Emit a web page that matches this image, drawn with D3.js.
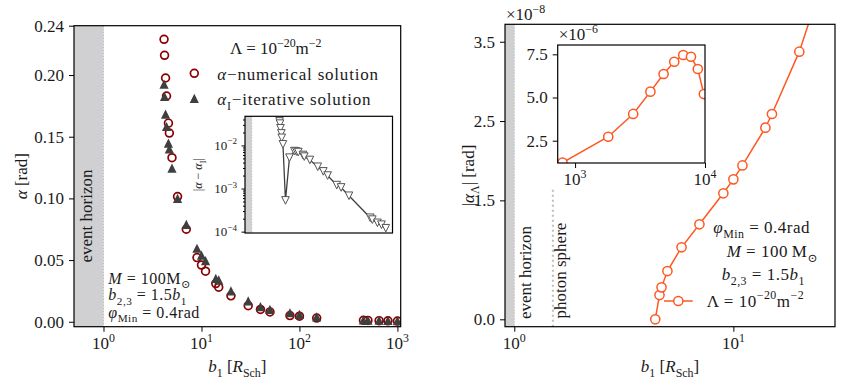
<!DOCTYPE html>
<html>
<head>
<meta charset="utf-8">
<script src="https://cdn.jsdelivr.net/npm/d3@7"></script>
<style>
  body { margin: 0; background: #fff; }
  svg { display: block; }
  text { font-family: "Liberation Serif", "DejaVu Serif", serif; fill: #1a1a1a; }
</style>
</head>
<body>
<svg id="chart" width="845" height="387"></svg>
<script>
// ---- data ----
// left panel: deflection angle vs impact parameter b1 (R_Sch)
var bNum = [4.15, 4.2, 4.3, 4.4, 4.6, 4.7, 5.0, 5.7, 7, 9, 10, 11, 14, 15, 20, 30, 40, 50, 80, 100, 150, 450, 500, 650, 800, 1000];
var alphaNum = [0.229, 0.216, 0.1976, 0.183, 0.161, 0.153, 0.133, 0.1015, 0.075, 0.052, 0.046, 0.041, 0.031, 0.028, 0.021, 0.013, 0.010, 0.008, 0.005, 0.0045, 0.003, 0.0012, 0.0011, 0.0009, 0.0008, 0.0006];
var alphaIter = [0.1927, 0.1826, 0.1683, 0.1583, 0.1448, 0.1402, 0.1245, 0.100, 0.079, 0.0596, 0.054, 0.0495, 0.0352, 0.034, 0.025, 0.017, 0.0122, 0.010, 0.0073, 0.006, 0.004, 0.0015, 0.0014, 0.0013, 0.0011, 0.001];
// inset: |alpha - alpha_I|
var diffAbs = [0.043, 0.036, 0.032, 0.025, 0.019, 0.015, 0.0106, 0.00053, 0.0052, 0.0074, 0.0072, 0.0070, 0.006, 0.0055, 0.0046, 0.0032, 0.0025, 0.002, 0.0012, 0.00106, 0.00068, 0.00021, 0.00019, 0.00016, 0.000145, 0.00012];

// right panel: |alpha_Lambda| in units of 1e-8 rad
var bLam = [4.4, 4.6, 4.7, 5.0, 5.8, 7, 9, 10, 11, 14, 15, 20, 30];
var alphaLam = [0.0, 0.306, 0.403, 0.609, 0.908, 1.198, 1.589, 1.765, 1.94, 2.416, 2.589, 3.375, 4.85];
// right inset: units of 1e-6 rad
var bLamInset = [800, 1800, 2800, 3800, 4800, 5800, 6800, 7800, 8800, 9800];
var alphaLamInset = [1.23, 2.73, 4.05, 5.34, 6.36, 7.07, 7.46, 7.36, 6.65, 5.2];

// tick values
var yTicksL = [0, 0.05, 0.10, 0.15, 0.20, 0.24];
var xTicksL = [1, 10, 100, 1000];
var yTicksLI = [1e-4, 1e-3, 1e-2];
var yTicksR = [0.0, 1.5, 2.5, 3.5];
var xTicksR = [1, 10];
var yTicksRI = [2.5, 5.0, 7.5];
var xTicksRI = [1000, 10000];

// ---- layout ----
var L  = {x0: 74,    x1: 400.7, y0: 25.7, y1: 326.7};
var LI = {x0: 245,   x1: 392.5, y0: 116.3, y1: 233};
var R  = {x0: 505,   x1: 835,   y0: 24.3, y1: 326.7};
var RI = {x0: 557.7, x1: 705,   y0: 45,   y1: 163};

var RED = "#8b0000", DARK = "#3f3f3f", ORANGE = "#ff5722", BAND = "#d0d0d2", DOT = "#bdbdbd";
var FS = 17;

var svg = d3.select("#chart");
var defs = svg.append("defs");
function clip(id, b) {
  defs.append("clipPath").attr("id", id).append("rect")
    .attr("x", b.x0).attr("y", b.y0).attr("width", b.x1 - b.x0).attr("height", b.y1 - b.y0);
}
clip("cL", L); clip("cLI", LI); clip("cR", R); clip("cRI", RI);

// text with sub/superscripts, parts = [{t, i, sub, sup}]
function rich(sel, parts, size) {
  var off = 0;
  parts.forEach(function(p) {
    var shift = p.sub ? size * 0.3 : (p.sup ? -size * 0.42 : 0);
    var ts = sel.append("tspan").text(p.t);
    if (shift - off !== 0) ts.attr("dy", shift - off);
    off = shift;
    if (p.sub || p.sup) ts.attr("font-size", size * 0.7);
    if (p.i) ts.attr("font-style", "italic");
  });
  return sel;
}
function label(x, y, parts, size, anchor, rot) {
  var t = svg.append("text").attr("font-size", size).attr("text-anchor", anchor || "start");
  if (rot) t.attr("transform", "translate(" + x + "," + y + ") rotate(" + rot + ")");
  else t.attr("x", x).attr("y", y);
  return rich(t, parts, size);
}
function pow10(v) {
  var e = Math.round(Math.log10(v));
  return [{t: "10"}, {t: (e < 0 ? "\u2212" + (-e) : "" + e), sup: 1}];
}
function triUp(s) { return "M0," + (-s) + "L" + (-s) + "," + s + "L" + s + "," + s + "Z"; }
function triDown(s) { return "M0," + s + "L" + (-s) + "," + (-s) + "L" + s + "," + (-s) + "Z"; }

function styleAxis(g) {
  g.select(".domain").remove();
  g.selectAll(".tick line").attr("stroke", "#000").attr("stroke-width", 1);
  g.attr("font-size", FS);
}
function frame(b) {
  svg.append("rect").attr("x", b.x0).attr("y", b.y0).attr("width", b.x1 - b.x0).attr("height", b.y1 - b.y0)
    .attr("fill", "none").attr("stroke", "#000").attr("stroke-width", 1.2);
}
function band(b, xs, lo, hi) {
  svg.append("rect").attr("x", b.x0).attr("y", b.y0).attr("width", xs(hi) - b.x0).attr("height", b.y1 - b.y0)
    .attr("fill", BAND);
  svg.append("line").attr("x1", xs(hi)).attr("x2", xs(hi)).attr("y1", b.y0).attr("y2", b.y1)
    .attr("stroke", DOT).attr("stroke-width", 1).attr("stroke-dasharray", "1.5,1.5");
}

// ================= LEFT PANEL =================
var xL = d3.scaleLog().domain([0.5, 1080]).range([L.x0, L.x1]);
var yL = d3.scaleLinear().domain([-0.004, 0.24]).range([L.y1, L.y0]);

band(L, xL, 0.5, 1);

var gL = svg.append("g").attr("clip-path", "url(#cL)");
gL.selectAll("circle.num").data(bNum).enter().append("circle")
  .attr("cx", function(d) { return xL(d); })
  .attr("cy", function(d, i) { return yL(alphaNum[i]); })
  .attr("r", 3.9).attr("fill", "none").attr("stroke", RED).attr("stroke-width", 1.7);
gL.selectAll("path.iter").data(bNum).enter().append("path")
  .attr("transform", function(d, i) { return "translate(" + xL(d) + "," + yL(alphaIter[i]) + ")"; })
  .attr("d", triUp(4.6)).attr("fill", DARK);

var axYL = svg.append("g").attr("transform", "translate(" + L.x0 + ",0)")
  .call(d3.axisLeft(yL).tickValues(yTicksL).tickSize(5).tickPadding(5).tickFormat(d3.format(".2f")));
styleAxis(axYL);
var axXL = svg.append("g").attr("transform", "translate(0," + L.y1 + ")")
  .call(d3.axisBottom(xL).tickValues(xTicksL).tickSize(5).tickFormat(""));
styleAxis(axXL);
xTicksL.forEach(function(v) { label(xL(v), L.y1 + 22, pow10(v), FS, "middle"); });

label(91.5, 262.5, [{t: "event horizon"}], FS, "start", -90);
label(230, 54, [{t: "\u039B = 10"}, {t: "\u221220", sup: 1}, {t: "m"}, {t: "\u22122", sup: 1}], FS);
svg.append("circle").attr("cx", 194.3).attr("cy", 73.3).attr("r", 3.9)
  .attr("fill", "none").attr("stroke", RED).attr("stroke-width", 1.7);
label(217.3, 80, [{t: "\u03B1", i: 1}, {t: "\u2212numerical solution"}], FS).attr("letter-spacing", 0.8);
svg.append("path").attr("transform", "translate(194.3,98.3)").attr("d", triUp(4.6)).attr("fill", DARK);
label(217.3, 105, [{t: "\u03B1", i: 1}, {t: "I", sub: 1}, {t: "\u2212iterative solution"}], FS).attr("letter-spacing", 0.8);
label(108.3, 283.5, [{t: "M", i: 1}, {t: " = 100M"}, {t: "\u2299", sub: 1}], 16).attr("letter-spacing", 0.5);
label(108.3, 300, [{t: "b", i: 1}, {t: "2,3", sub: 1}, {t: " = 1.5"}, {t: "b", i: 1}, {t: "1", sub: 1}], 16).attr("letter-spacing", 0.5);
label(108.3, 317.5, [{t: "\u03C6", i: 1}, {t: "Min", sub: 1}, {t: " = 0.4rad"}], 16).attr("letter-spacing", 0.5);
label((L.x0 + L.x1) / 2, 372, [{t: "b", i: 1}, {t: "1", sub: 1}, {t: " ["}, {t: "R", i: 1}, {t: "Sch", sub: 1}, {t: "]"}], FS, "middle");
label(27, (L.y0 + L.y1) / 2, [{t: "\u03B1", i: 1}, {t: " [rad]"}], FS, "middle", -90);
frame(L);

// ---- left inset ----
var xLI = d3.scaleLog().domain([0.708, 1413]).range([LI.x0, LI.x1]);
var yLI = d3.scaleLog().domain([9.3e-5, 0.0474]).range([LI.y1, LI.y0]);
svg.append("rect").attr("x", LI.x0).attr("y", LI.y0).attr("width", LI.x1 - LI.x0).attr("height", LI.y1 - LI.y0).attr("fill", "#fff");
band(LI, xLI, 0.708, 1);
var gLI = svg.append("g").attr("clip-path", "url(#cLI)");
gLI.append("path").datum(bNum)
  .attr("d", d3.line().x(function(d) { return xLI(d); }).y(function(d, i) { return yLI(diffAbs[i]); }))
  .attr("fill", "none").attr("stroke", DARK).attr("stroke-width", 1.3);
gLI.selectAll("path.dm").data(bNum).enter().append("path")
  .attr("transform", function(d, i) { return "translate(" + xLI(d) + "," + yLI(diffAbs[i]) + ")"; })
  .attr("d", triDown(3.8)).attr("fill", "#fff").attr("stroke", "#555").attr("stroke-width", 1);
var minorLI = [];
[1e-4, 1e-3, 1e-2].forEach(function(dec) { for (var k = 2; k <= 9; k++) { var v = dec * k; if (v < 0.0474) minorLI.push(v); } });
var axLIm = svg.append("g").attr("transform", "translate(" + LI.x0 + ",0)")
  .call(d3.axisLeft(yLI).tickValues(minorLI).tickSize(2).tickFormat(""));
styleAxis(axLIm);
var axLI = svg.append("g").attr("transform", "translate(" + LI.x0 + ",0)")
  .call(d3.axisLeft(yLI).tickValues(yTicksLI).tickSize(3.5).tickFormat(""));
styleAxis(axLI);
yTicksLI.forEach(function(v) { label(LI.x0 - 8, yLI(v) + 4.5, pow10(v), 13, "end"); });
label(202, (LI.y0 + LI.y1) / 2, [{t: "|"}, {t: "\u03B1", i: 1}, {t: " \u2212 "}, {t: "\u03B1", i: 1}, {t: "I", sub: 1}, {t: "|"}], 12, "middle", -90);
frame(LI);

// ================= RIGHT PANEL =================
var xR = d3.scaleLog().domain([0.907, 29.1]).range([R.x0, R.x1]);
var yR = d3.scaleLinear().domain([-0.093, 3.72]).range([R.y1, R.y0]);

band(R, xR, 0.907, 1);
svg.append("line").attr("x1", xR(1.5)).attr("x2", xR(1.5)).attr("y1", R.y1).attr("y2", yR(1.67))
  .attr("stroke", DOT).attr("stroke-width", 2).attr("stroke-dasharray", "2,3");

var gR = svg.append("g").attr("clip-path", "url(#cR)");
gR.append("path").datum(bLam)
  .attr("d", d3.line().x(function(d) { return xR(d); }).y(function(d, i) { return yR(alphaLam[i]); }))
  .attr("fill", "none").attr("stroke", ORANGE).attr("stroke-width", 1.5);
gR.selectAll("circle").data(bLam).enter().append("circle")
  .attr("cx", function(d) { return xR(d); })
  .attr("cy", function(d, i) { return yR(alphaLam[i]); })
  .attr("r", 4.6).attr("fill", "#fff").attr("stroke", ORANGE).attr("stroke-width", 1.5);

var axYR = svg.append("g").attr("transform", "translate(" + R.x0 + ",0)")
  .call(d3.axisLeft(yR).tickValues(yTicksR).tickSize(5).tickPadding(5).tickFormat(d3.format(".1f")));
styleAxis(axYR);
var axXR = svg.append("g").attr("transform", "translate(0," + R.y1 + ")")
  .call(d3.axisBottom(xR).tickValues(xTicksR).tickSize(5).tickFormat(""));
styleAxis(axXR);
xTicksR.forEach(function(v) { label(xR(v), R.y1 + 22, pow10(v), FS, "middle"); });
label(R.x0 + 1, 20, [{t: "\u00D710"}, {t: "\u22128", sup: 1}], FS);

label(531, 319, [{t: "event horizon"}], FS, "start", -90);
label(566, 318.5, [{t: "photon sphere"}], FS, "start", -90);
label(713.3, 232.7, [{t: "\u03C6", i: 1}, {t: "Min", sub: 1}, {t: " = 0.4rad"}], FS).attr("letter-spacing", 0.5);
label(726.7, 257.3, [{t: "M", i: 1}, {t: " = 100\u2009M"}, {t: "\u2299", sub: 1}], FS).attr("letter-spacing", 0.5);
label(721.7, 280, [{t: "b", i: 1}, {t: "2,3", sub: 1}, {t: " = 1.5"}, {t: "b", i: 1}, {t: "1", sub: 1}], FS).attr("letter-spacing", 0.5);
svg.append("line").attr("x1", 664).attr("x2", 692.7).attr("y1", 301).attr("y2", 301)
  .attr("stroke", ORANGE).attr("stroke-width", 1.5);
svg.append("circle").attr("cx", 678.3).attr("cy", 301).attr("r", 4.6)
  .attr("fill", "#fff").attr("stroke", ORANGE).attr("stroke-width", 1.5);
label(706.7, 306.5, [{t: "\u039B = 10"}, {t: "\u221220", sup: 1}, {t: "m"}, {t: "\u22122", sup: 1}], FS).attr("letter-spacing", 0.5);
label((R.x0 + R.x1) / 2, 372, [{t: "b", i: 1}, {t: "1", sub: 1}, {t: " ["}, {t: "R", i: 1}, {t: "Sch", sub: 1}, {t: "]"}], FS, "middle");
label(474, (R.y0 + R.y1) / 2, [{t: "|"}, {t: "\u03B1", i: 1}, {t: "\u039B", sub: 1}, {t: "| [rad]"}], FS, "middle", -90);
frame(R);

// ---- right inset ----
var xRI = d3.scaleLog().domain([735, 10000]).range([RI.x0, RI.x1]);
var yRI = d3.scaleLinear().domain([1.21, 8.04]).range([RI.y1, RI.y0]);
svg.append("rect").attr("x", RI.x0).attr("y", RI.y0).attr("width", RI.x1 - RI.x0).attr("height", RI.y1 - RI.y0).attr("fill", "#fff");
var gRI = svg.append("g").attr("clip-path", "url(#cRI)");
gRI.append("path").datum(bLamInset)
  .attr("d", d3.line().x(function(d) { return xRI(d); }).y(function(d, i) { return yRI(alphaLamInset[i]); }))
  .attr("fill", "none").attr("stroke", ORANGE).attr("stroke-width", 1.5);
gRI.selectAll("circle").data(bLamInset).enter().append("circle")
  .attr("cx", function(d) { return xRI(d); })
  .attr("cy", function(d, i) { return yRI(alphaLamInset[i]); })
  .attr("r", 4.6).attr("fill", "#fff").attr("stroke", ORANGE).attr("stroke-width", 1.5);
var axYRI = svg.append("g").attr("transform", "translate(" + RI.x0 + ",0)")
  .call(d3.axisLeft(yRI).tickValues(yTicksRI).tickSize(5).tickPadding(5).tickFormat(d3.format(".1f")));
styleAxis(axYRI);
var axXRI = svg.append("g").attr("transform", "translate(0," + RI.y1 + ")")
  .call(d3.axisBottom(xRI).tickValues(xTicksRI).tickSize(5).tickFormat(""));
styleAxis(axXRI);
xTicksRI.forEach(function(v) { label(xRI(v), RI.y1 + 22, pow10(v), FS, "middle"); });
label(RI.x0 + 1, 40, [{t: "\u00D710"}, {t: "\u22126", sup: 1}], FS);
frame(RI);
</script>
</body>
</html>
